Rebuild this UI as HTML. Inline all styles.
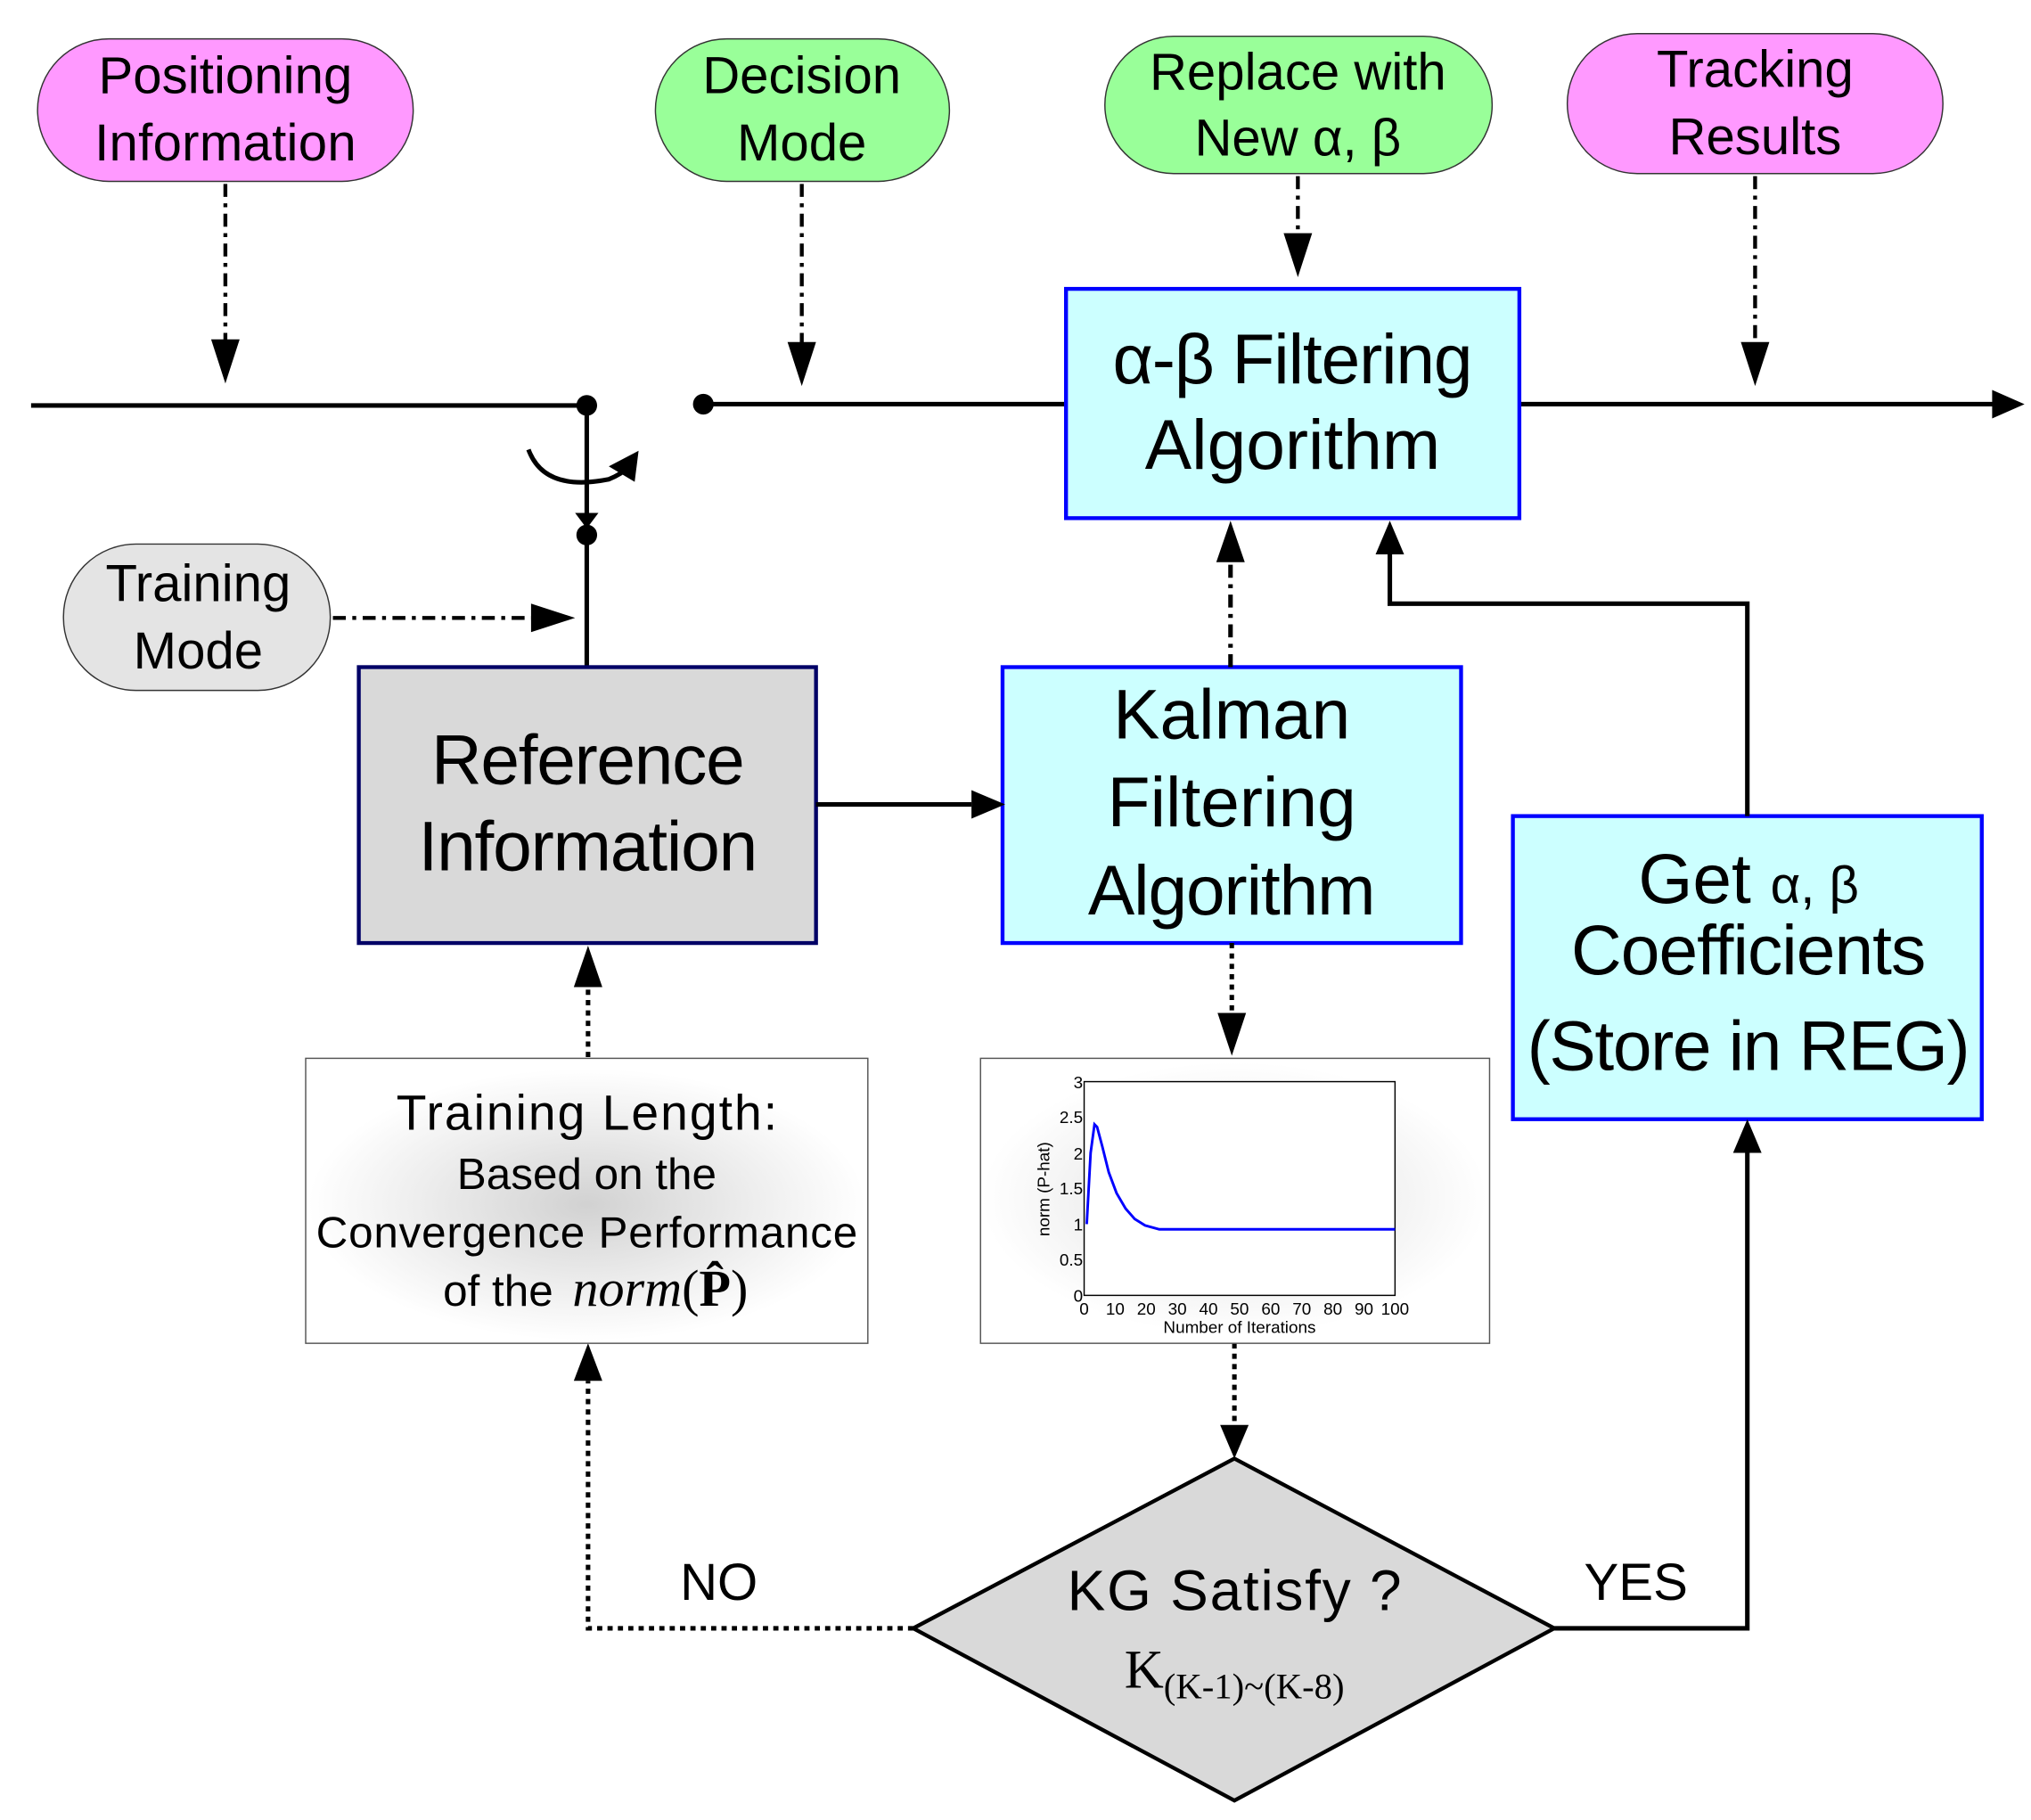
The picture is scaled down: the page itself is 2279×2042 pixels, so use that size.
<!DOCTYPE html>
<html><head><meta charset="utf-8"><style>
html,body{margin:0;padding:0;background:#fff}
svg{display:block}
.s{font-family:"Liberation Sans",sans-serif}
.r{font-family:"Liberation Serif",serif}
</style></head><body>
<svg width="2279" height="2042" viewBox="0 0 1568 1405" preserveAspectRatio="none" xmlns="http://www.w3.org/2000/svg">
<defs>
<radialGradient id="g1" cx="50%" cy="50%" r="50%">
<stop offset="0" stop-color="#9a9a9a"/><stop offset="0.6" stop-color="#d8d8d8"/><stop offset="1" stop-color="#fff"/>
</radialGradient>
</defs>
<g class="s">
<rect x="29" y="30" width="290" height="110" rx="55" fill="#ff99ff" stroke="#333" stroke-width="1"/>
<text x="174" y="72" font-size="40" text-anchor="middle" textLength="196">Positioning</text>
<text x="174" y="124" font-size="40" text-anchor="middle" textLength="202">Information</text>
<rect x="506" y="30" width="227" height="110" rx="55" fill="#99ff99" stroke="#333" stroke-width="1"/>
<text x="619" y="72" font-size="40" text-anchor="middle">Decision</text>
<text x="619" y="124" font-size="40" text-anchor="middle">Mode</text>
<rect x="853" y="28" width="299" height="106" rx="53" fill="#99ff99" stroke="#333" stroke-width="1"/>
<text x="1002" y="69" font-size="40" text-anchor="middle">Replace with</text>
<text x="1002" y="120" font-size="40" text-anchor="middle">New α, β</text>
<rect x="1210" y="26" width="290" height="108" rx="54" fill="#ff99ff" stroke="#333" stroke-width="1"/>
<text x="1355" y="67" font-size="40" text-anchor="middle">Tracking</text>
<text x="1355" y="119" font-size="40" text-anchor="middle">Results</text>
<rect x="49" y="420" width="206" height="113" rx="56" fill="#e4e4e4" stroke="#333" stroke-width="1"/>
<text x="153" y="464" font-size="40" text-anchor="middle">Training</text>
<text x="153" y="516" font-size="40" text-anchor="middle">Mode</text>

<g stroke="#000" stroke-width="3" stroke-dasharray="10,5,3,5" fill="none">
<line x1="174" y1="142" x2="174" y2="270"/>
<line x1="619" y1="142" x2="619" y2="272"/>
<line x1="1002" y1="136" x2="1002" y2="190"/>
<line x1="1355" y1="136" x2="1355" y2="272"/>
<line x1="257" y1="477" x2="415" y2="477"/>
</g>
<g fill="#000">
<path d="M163,262 L185,262 L174,296 Z"/>
<path d="M608,264 L630,264 L619,298 Z"/>
<path d="M991,180 L1013,180 L1002,214 Z"/>
<path d="M1344,264 L1366,264 L1355,298 Z"/>
<path d="M410,466 L410,488 L444,477 Z"/>
</g>

<g stroke="#000" stroke-width="3.5" fill="none">
<line x1="24" y1="313" x2="453" y2="313"/>
<line x1="543" y1="312" x2="823" y2="312"/>
<line x1="1173" y1="312" x2="1540" y2="312"/>
<line x1="453" y1="313" x2="453" y2="515"/>
<path d="M408,347 Q420,380 470,370 Q480,366 486,360"/>
</g>
<path d="M1538,301 L1538,323 L1563,312 Z" fill="#000"/>
<path d="M470,360 L493,348 L490,372 Z" fill="#000"/>
<path d="M444,396 L462,396 L453,408 Z" fill="#000"/>
<circle cx="453" cy="313" r="8" fill="#000"/>
<circle cx="543" cy="312" r="8" fill="#000"/>
<circle cx="453" cy="413" r="8" fill="#000"/>

<rect x="823" y="223" width="350" height="177" fill="#ccffff" stroke="#0000ff" stroke-width="3"/>
<text x="998" y="296" font-size="54" text-anchor="middle" textLength="278">α-β Filtering</text>
<text x="998" y="362" font-size="54" text-anchor="middle">Algorithm</text>

<rect x="277" y="515" width="353" height="213" fill="#d9d9d9" stroke="#000066" stroke-width="3"/>
<text x="454" y="605" font-size="54" text-anchor="middle" textLength="242">Reference</text>
<text x="454" y="672" font-size="54" text-anchor="middle" textLength="262">Information</text>

<rect x="774" y="515" width="354" height="213" fill="#ccffff" stroke="#0000ff" stroke-width="3"/>
<text x="951" y="570" font-size="54" text-anchor="middle">Kalman</text>
<text x="951" y="638" font-size="54" text-anchor="middle">Filtering</text>
<text x="951" y="706" font-size="54" text-anchor="middle" textLength="222">Algorithm</text>

<rect x="1168" y="630" width="362" height="234" fill="#ccffff" stroke="#0000ff" stroke-width="3"/>
<text x="1350" y="697" font-size="54" text-anchor="middle">Get <tspan font-size="40">α, β</tspan></text>
<text x="1350" y="752" font-size="54" text-anchor="middle" textLength="274">Coefficients</text>
<text x="1350" y="826" font-size="54" text-anchor="middle" textLength="342">(Store in REG)</text>

<g stroke="#000" stroke-width="3.5" fill="none">
<line x1="630" y1="621" x2="750" y2="621"/>
<polyline points="1349,630 1349,466 1073,466 1073,425"/>
<polyline points="1200,1257 1349,1257 1349,890"/>
</g>
<path d="M750,610 L750,632 L776,621 Z" fill="#000"/>
<path d="M1062,428 L1084,428 L1073,402 Z" fill="#000"/>
<path d="M1338,890 L1360,890 L1349,864 Z" fill="#000"/>
<g stroke="#000" stroke-width="3.5" stroke-dasharray="10,5,3,5" fill="none">
<line x1="950" y1="515" x2="950" y2="430"/>
</g>
<path d="M939,434 L961,434 L950,402 Z" fill="#000"/>
<g stroke="#000" stroke-width="3.5" stroke-dasharray="4,4" fill="none">
<line x1="454" y1="816" x2="454" y2="758"/>
<line x1="951" y1="728" x2="951" y2="786"/>
<line x1="953" y1="1037" x2="953" y2="1102"/>
<polyline points="705,1257 454,1257 454,1066"/>
</g>
<path d="M443,762 L465,762 L454,730 Z" fill="#000"/>
<path d="M940,782 L962,782 L951,815 Z" fill="#000"/>
<path d="M942,1100 L964,1100 L953,1126 Z" fill="#000"/>
<path d="M443,1066 L465,1066 L454,1037 Z" fill="#000"/>

<rect x="236" y="817" width="434" height="220" fill="#fff" stroke="#555" stroke-width="1"/>
<ellipse cx="453" cy="930" rx="215" ry="105" fill="url(#g1)" opacity="0.45"/>
<text x="453" y="872" font-size="38" text-anchor="middle" textLength="294">Training Length:</text>
<text x="453" y="918" font-size="34" text-anchor="middle">Based on the</text>
<text x="453" y="963" font-size="34" text-anchor="middle" textLength="418">Convergence Performance</text>
<text x="342" y="1008" font-size="34">of the </text>
<text x="442" y="1008" font-size="40" class="r"><tspan font-style="italic">norm</tspan>(<tspan font-weight="bold">P̂</tspan>)</text>

<rect x="757" y="817" width="393" height="220" fill="#fff" stroke="#555" stroke-width="1"/>
<ellipse cx="953" cy="925" rx="195" ry="105" fill="url(#g1)" opacity="0.35"/>
<rect x="837" y="835" width="240" height="165" fill="#fff" stroke="#000" stroke-width="1"/>
<g font-size="13" text-anchor="end">
<text x="836" y="1005">0</text><text x="836" y="977">0.5</text><text x="836" y="950">1</text>
<text x="836" y="922">1.5</text><text x="836" y="895">2</text><text x="836" y="867">2.5</text><text x="836" y="840">3</text>
</g>
<g font-size="13" text-anchor="middle">
<text x="837" y="1015">0</text><text x="861" y="1015">10</text><text x="885" y="1015">20</text><text x="909" y="1015">30</text><text x="933" y="1015">40</text><text x="957" y="1015">50</text><text x="981" y="1015">60</text><text x="1005" y="1015">70</text><text x="1029" y="1015">80</text><text x="1053" y="1015">90</text><text x="1077" y="1015">100</text>
<text x="957" y="1029">Number of Iterations</text>
<text transform="translate(810,918) rotate(-90)">norm (P-hat)</text>
</g>
<path d="M839,945 L842,890 L845,868 L847,870 L851,885 L856,905 L862,921 L869,933 L876,941 L884,946 L895,949 L1077,949" stroke="#0000ff" stroke-width="2" fill="none"/>

<path d="M953,1126 L1200,1257 L953,1390 L705,1257 Z" fill="#d9d9d9" stroke="#000" stroke-width="3"/>
<text x="953" y="1243" font-size="44" text-anchor="middle" textLength="258">KG Satisfy ?</text>
<text x="953" y="1303" font-size="42" text-anchor="middle" class="r">K<tspan font-size="28" dy="8">(K-1)~(K-8)</tspan></text>
<text x="555" y="1235" font-size="40" text-anchor="middle">NO</text>
<text x="1263" y="1235" font-size="40" text-anchor="middle">YES</text>
</g>
</svg>
</body></html>
